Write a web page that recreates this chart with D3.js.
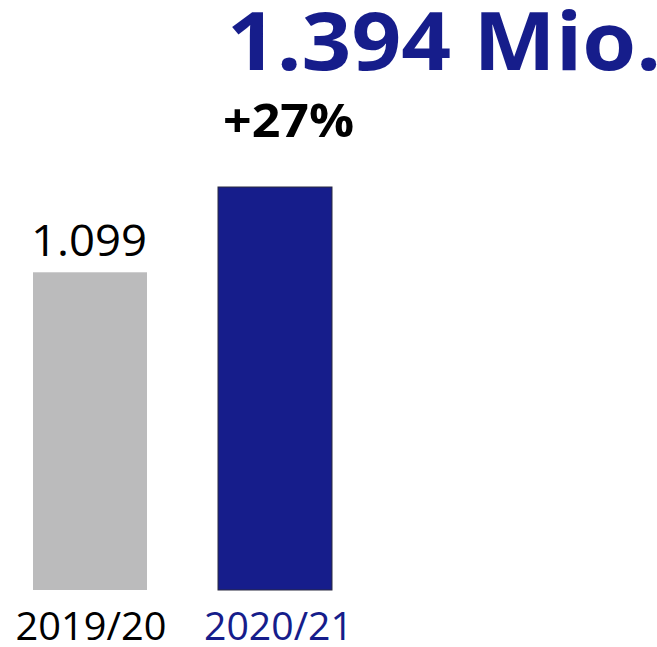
<!DOCTYPE html>
<html><head><meta charset="utf-8">
<script src="https://cdn.jsdelivr.net/npm/d3@7"></script>
<style>html,body{margin:0;padding:0;background:#fff;}svg{display:block;}</style>
</head><body>
<svg id="chart" width="657" height="647"></svg>
<script>
const categories = ["2019/20", "2020/21"];
const values = [1.099, 1.394];
const valueLabels = ["1.099", "1.394 Mio."];
const changeLabel = "+27%";

const svg = d3.select("#chart");
const font = "'Open Sans', 'Noto Sans', sans-serif";
const blue = "#161d8b";
const gray = "#bbbbbc";

const x = d3.scaleBand().domain(categories).range([-2.5, 367.5]).paddingInner(0.3838).paddingOuter(0.1919);
const y = d3.scaleLinear().domain([0, 1.394]).range([590, 187]);

const data = categories.map((c, i) => ({c, v: values[i], i}));

svg.selectAll("rect.bar").data(data).enter().append("rect")
  .attr("class", "bar")
  .attr("x", d => x(d.c))
  .attr("width", x.bandwidth())
  .attr("y", d => y(d.v))
  .attr("height", d => y(0) - y(d.v))
  .attr("fill", d => d.i === 0 ? gray : blue)
  .attr("stroke", d => d.i === 0 ? "none" : "#2a2a40")
  .attr("stroke-width", 1);

// category axis labels
svg.selectAll("text.cat").data(data).enter().append("text")
  .attr("class", "cat")
  .attr("x", d => x(d.c) + x.bandwidth() / 2 + (d.i === 1 ? 3.5 : 1))
  .attr("y", 640)
  .attr("text-anchor", "middle")
  .attr("font-family", font)
  .attr("font-size", 38)
  .attr("textLength", d => d.i === 0 ? 151 : 149)
  .attr("lengthAdjust", "spacingAndGlyphs")
  .attr("fill", d => d.i === 0 ? "#000" : blue)
  .text(d => d.c);

// value label of first bar
svg.append("text")
  .attr("x", x(categories[0]) + x.bandwidth() / 2 - 1)
  .attr("y", y(values[0]) - 16)
  .attr("text-anchor", "middle")
  .attr("font-family", font)
  .attr("font-size", 44)
  .attr("textLength", 116)
  .attr("lengthAdjust", "spacingAndGlyphs")
  .attr("fill", "#000")
  .text(valueLabels[0]);

// change label
svg.append("text")
  .attr("x", x(categories[1]) + x.bandwidth() / 2 + 13.5)
  .attr("y", 137)
  .attr("text-anchor", "middle")
  .attr("font-family", font)
  .attr("font-weight", "bold")
  .attr("font-size", 46)
  .attr("textLength", 131)
  .attr("lengthAdjust", "spacingAndGlyphs")
  .attr("fill", "#000")
  .text(changeLabel);

// big headline value
svg.append("text")
  .attr("x", 227)
  .attr("y", 70)
  .attr("text-anchor", "start")
  .attr("font-family", font)
  .attr("font-weight", "bold")
  .attr("font-size", 80)
  .attr("textLength", 434)
  .attr("lengthAdjust", "spacingAndGlyphs")
  .attr("fill", blue)
  .text(valueLabels[1]);
</script>
</body></html>
